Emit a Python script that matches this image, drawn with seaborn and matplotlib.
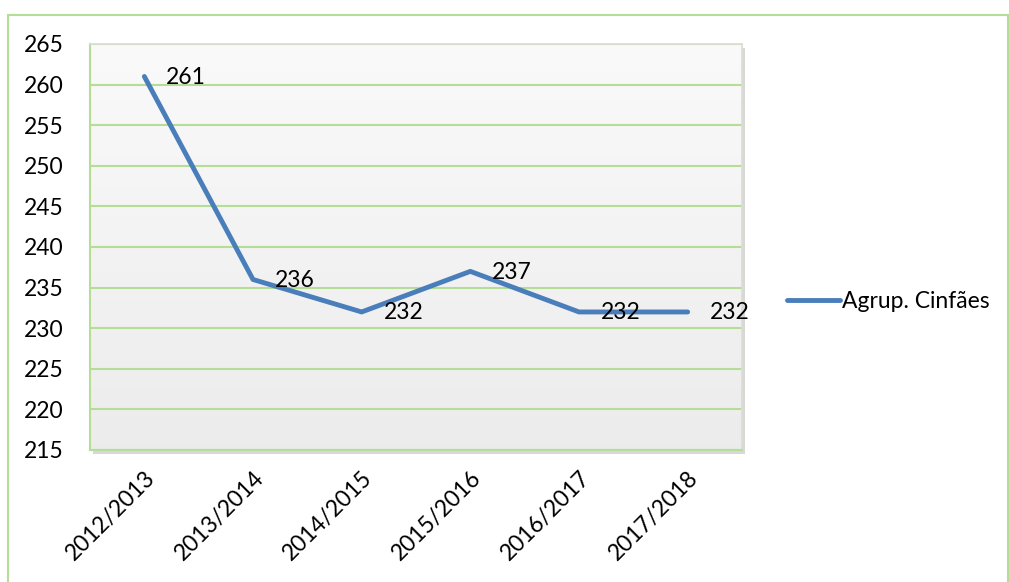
import numpy as np
import pandas as pd
import matplotlib
matplotlib.use("Agg")
import matplotlib.pyplot as plt
from matplotlib.patches import Rectangle
import seaborn as sns

seasons = ["2012/2013", "2013/2014", "2014/2015", "2015/2016", "2016/2017", "2017/2018"]
values = [261, 236, 232, 237, 232, 232]
series_name = "Agrup. Cinfães"

sns.set_style("white")
plt.rcParams['font.family'] = ['Lato', 'DejaVu Sans']
plt.rcParams['text.color'] = 'black'
plt.rcParams['xtick.color'] = 'black'
plt.rcParams['ytick.color'] = 'black'

green = "#b4de96"
blue = "#4a7ebb"
fs = 16.5

df = pd.DataFrame({"season": seasons, "value": values, "serie": series_name})

W, H = 1009, 582
fig = plt.figure(figsize=(W / 100, H / 100), dpi=100)
ax = fig.add_axes([90 / W, 1 - 450 / H, (742 - 90) / W, (450 - 44) / H])
ax.set_zorder(2)

# outer chart border
fig.patches.append(Rectangle((8 / W, -0.05), 1000 / W, 1.05 - 15 / H, transform=fig.transFigure,
                             fill=False, edgecolor=green, linewidth=1.5, zorder=0))
# plot area shadow
fig.patches.append(Rectangle((93 / W, 1 - 454 / H), (742 - 90) / W, (450 - 44) / H,
                             transform=fig.transFigure, facecolor="#d8d8d8", edgecolor="none", zorder=0))

# gradient background
grad = np.linspace(0.98, 0.925, 256).reshape(-1, 1)
ax.imshow(np.dstack([grad, grad, grad]), extent=[0, 1, 0, 1], transform=ax.transAxes,
          aspect="auto", zorder=0)

sns.lineplot(data=df, x="season", y="value", hue="serie", palette=[blue], linewidth=3.5,
             ax=ax, zorder=3, solid_capstyle="round")

for i, v in enumerate(values):
    ax.annotate(str(v), (i, v), xytext=(22, -1), textcoords="offset pixels",
                ha="left", va="center", fontsize=fs, color="black", zorder=4)

ax.set_xlim(-0.5, len(seasons) - 0.5)
ax.set_ylim(215, 265)
ax.set_yticks(range(215, 266, 5))
ax.set_xticks(range(len(seasons)))
ax.set_xticklabels(seasons, rotation=45, ha="right", rotation_mode="anchor")
ax.set_xticks(np.arange(-0.5, len(seasons), 1.0), minor=True)
ax.tick_params(axis="x", which="major", length=0, pad=12, labelsize=fs)
ax.tick_params(axis="x", which="minor", length=6, width=1.5, color=green, direction="out")
ax.tick_params(axis="y", length=6, width=1.5, color=green, direction="out", pad=13, labelsize=fs)

ax.grid(axis="y", color=green, linewidth=1.5, zorder=1)
ax.set_axisbelow(True)
ax.set_xlabel("")
ax.set_ylabel("")
for side in ["left", "bottom"]:
    ax.spines[side].set_color(green)
    ax.spines[side].set_linewidth(1.5)
for side in ["top", "right"]:
    ax.spines[side].set_color("#dcdcd6")
    ax.spines[side].set_linewidth(1.2)

leg = ax.legend(loc="center left", bbox_to_anchor=(778 / W, 1 - 302 / H),
                bbox_transform=fig.transFigure, frameon=False, fontsize=fs,
                handlelength=2.3, handletextpad=0.1, borderaxespad=0)
for line in leg.get_lines():
    line.set_linewidth(3.5)

fig.savefig("out.png", dpi=100)
